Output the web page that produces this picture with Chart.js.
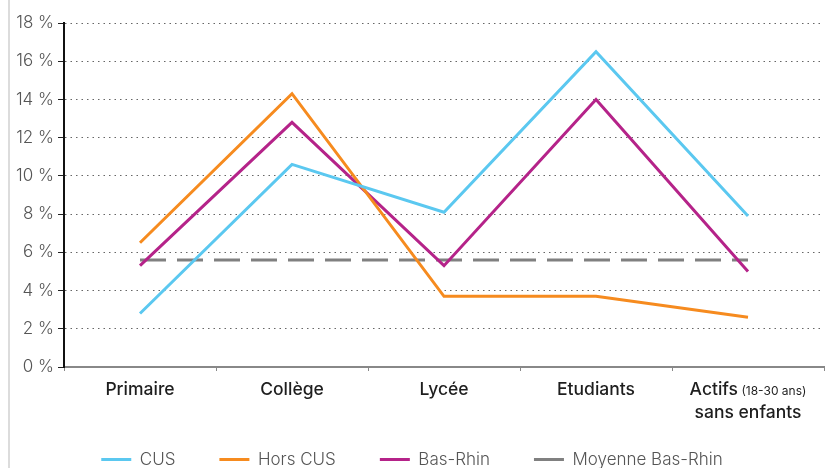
<!DOCTYPE html>
<html>
<head>
<meta charset="utf-8">
<script src="https://cdn.jsdelivr.net/npm/chart.js@4"></script>
<style>
  html, body { margin: 0; padding: 0; background: #fff; overflow: hidden; }
  #wrap { position: relative; width: 833px; height: 468px; overflow: hidden; }
  #edge { position: absolute; left: 8px; top: 0; width: 2px; height: 468px; background: #dcdcdc; }
  canvas { position: absolute; left: 0; top: 0; }
</style>
</head>
<body>
<div id="wrap">
  <div id="edge"></div>
  <canvas id="lineChart" width="833" height="490"></canvas>
</div>
<script>
// categories, one array per label line
const categories = [
  ['Primaire'],
  ['Collège'],
  ['Lycée'],
  ['Etudiants'],
  ['Actifs (18-30 ans)', 'sans enfants']
];

const cus = [2.8, 10.6, 8.1, 16.5, 7.9];
const horsCus = [6.5, 14.3, 3.7, 3.7, 2.6];
const basRhin = [5.3, 12.8, 5.3, 14.0, 5.0];
const moyenneBasRhin = [5.6, 5.6, 5.6, 5.6, 5.6];

const yTicks = [0, 2, 4, 6, 8, 10, 12, 14, 16, 18];

const FAMILY = "Inter, 'Liberation Sans', sans-serif";
Chart.defaults.font.family = FAMILY;

// draws the x labels so the "(18-30 ans)" part can be smaller
const xLabels = {
  id: 'xLabels',
  afterDraw(chart) {
    const ctx = chart.ctx;
    const x = chart.scales.x;
    const mainFont = '500 17.5px ' + FAMILY;
    const noteFont = '400 12px ' + FAMILY;
    ctx.save();
    ctx.fillStyle = '#1e1e1e';
    ctx.textBaseline = 'middle';
    ctx.textAlign = 'left';
    categories.forEach((lines, i) => {
      const cx = x.getPixelForValue(i);
      lines.forEach((line, j) => {
        const y = x.top + 23 + j * 23;
        const m = line.match(/^(.*?)(\s*\(.*\))?$/);
        const main = m[1];
        const note = m[2] || '';
        ctx.font = mainFont;
        const w1 = ctx.measureText(main).width;
        ctx.font = noteFont;
        const w2 = note ? ctx.measureText(note).width : 0;
        const left = cx - (w1 + w2) / 2;
        ctx.font = mainFont;
        ctx.fillText(main, left, y);
        if (note) {
          ctx.font = noteFont;
          ctx.fillText(note, left + w1, y + 1);
        }
      });
    });
    ctx.restore();
  }
};

let chart = new Chart(
  document.getElementById('lineChart'),
  {
    type: 'line',
    data: {
      labels: categories.map(l => l.join(' ')),
      datasets: [
        { label: 'CUS', data: cus, borderColor: '#5bc8f0', backgroundColor: '#5bc8f0' },
        { label: 'Hors CUS', data: horsCus, borderColor: '#f68b1f', backgroundColor: '#f68b1f' },
        { label: 'Bas-Rhin', data: basRhin, borderColor: '#b52389', backgroundColor: '#b52389' },
        { label: 'Moyenne Bas-Rhin', data: moyenneBasRhin, borderColor: '#808080', backgroundColor: '#808080', borderDash: [26, 11] }
      ]
    },
    options: {
      responsive: false,
      animation: false,
      layout: { padding: { top: 23, right: 9, bottom: 12, left: 0 } },
      elements: {
        line: { borderWidth: 3, tension: 0, borderCapStyle: 'butt' },
        point: { radius: 0 }
      },
      scales: {
        x: {
          offset: true,
          grid: { offset: true, drawOnChartArea: false, drawTicks: true, tickLength: 4, color: '#888' },
          border: { color: '#888', width: 2 },
          ticks: { display: false },
          afterFit: (scale) => { scale.height = 40; }
        },
        y: {
          min: 0,
          max: 18,
          afterBuildTicks: (scale) => { scale.ticks = yTicks.map(v => ({ value: v })); },
          grid: { color: '#666', lineWidth: 1, tickLength: 6, tickColor: '#222' },
          border: { color: '#111', width: 2, dash: [1.5, 4] },
          ticks: {
            color: '#555',
            padding: 4,
            font: { size: 17, weight: '300' },
            callback: (v) => v + ' %'
          },
          afterFit: (scale) => { scale.width = 64; }
        }
      },
      plugins: {
        tooltip: { enabled: false },
        legend: {
          position: 'bottom',
          labels: {
            usePointStyle: true,
            pointStyleWidth: 30,
            padding: 44,
            color: '#555',
            font: { size: 17, weight: '300' },
            generateLabels: (c) => {
              const items = Chart.defaults.plugins.legend.labels.generateLabels(c);
              items.forEach(it => {
                it.pointStyle = 'line';
                it.lineWidth = 3;
                if (it.lineDash && it.lineDash.length) it.lineDash = [12, 6];
              });
              return items;
            }
          }
        }
      }
    },
    plugins: [xLabels]
  }
);
</script>
</body>
</html>
